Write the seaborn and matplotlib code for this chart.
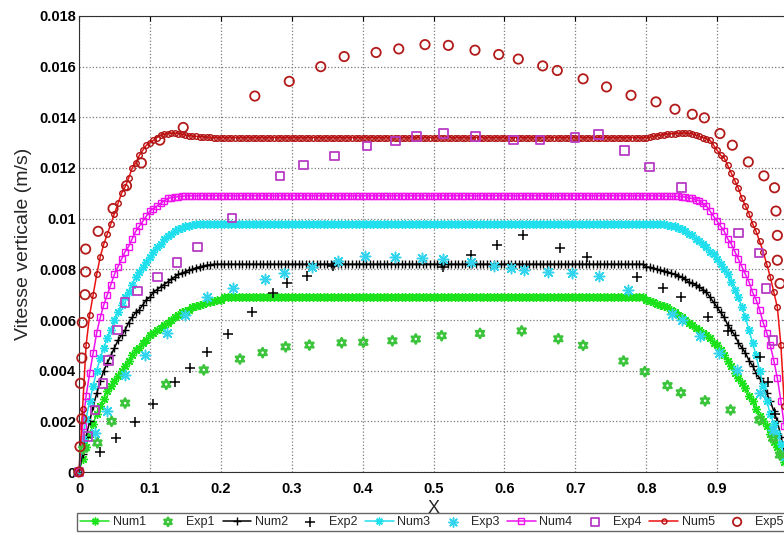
import numpy as np
import matplotlib
matplotlib.use("Agg")
import matplotlib.pyplot as plt
import seaborn as sns
from matplotlib.ticker import FormatStrFormatter, MultipleLocator

# ---- numerical profiles, read on a 0.005 grid in x ----
x_num = np.round(np.linspace(0, 1, 201), 3)

num1_rise = [0, 0.0005, 0.0010, 0.0015, 0.0019, 0.0023, 0.0026, 0.0029, 0.0032, 0.0034,
             0.0036, 0.0038, 0.0040, 0.0042, 0.0044, 0.0046, 0.0048, 0.0049, 0.0051, 0.0052,
             0.0054, 0.0055, 0.0056, 0.0057, 0.0058, 0.0059, 0.0060, 0.0061, 0.0062, 0.0063,
             0.00635, 0.0064, 0.0065, 0.00655, 0.0066, 0.00665, 0.0067, 0.00673, 0.00676, 0.00679,
             0.0068]
num1_fall = [0.0068, 0.00675, 0.0067, 0.00665, 0.0066, 0.00655, 0.0065, 0.0064, 0.0063, 0.0062,
             0.0061, 0.0060, 0.0059, 0.0058, 0.0057, 0.0056, 0.0055, 0.0054, 0.0053, 0.0051,
             0.0050, 0.0048, 0.0046, 0.0044, 0.0042, 0.0039, 0.0037, 0.0035, 0.0033, 0.0030,
             0.0028, 0.0025, 0.0022, 0.0020, 0.0018, 0.0015, 0.0012, 0.0010, 0.0007, 0.0004,
             0]
num2_rise = [0, 0.0007, 0.0014, 0.0020, 0.0026, 0.0031, 0.0036, 0.0040, 0.0043, 0.0046,
             0.0049, 0.0052, 0.0054, 0.0056, 0.0059, 0.0061, 0.0063, 0.0064, 0.0066, 0.0068,
             0.0069, 0.0071, 0.0072, 0.0073, 0.0074, 0.0075, 0.0076, 0.0077, 0.0078, 0.00785,
             0.0079, 0.00797, 0.0080, 0.00806, 0.0081, 0.00813, 0.00816, 0.00818, 0.0082, 0.0082,
             0.0082]
num2_fall = [0.0081, 0.00808, 0.00805, 0.0080, 0.00797, 0.00793, 0.0079, 0.00785, 0.0078, 0.00775,
             0.0077, 0.0076, 0.0075, 0.00745, 0.0074, 0.0073, 0.0072, 0.0071, 0.0069, 0.0067,
             0.0065, 0.0063, 0.0061, 0.0058, 0.0056, 0.0054, 0.0051, 0.0049, 0.0047, 0.0044,
             0.0042, 0.0039, 0.0037, 0.0035, 0.0031, 0.0028, 0.0024, 0.0020, 0.0014, 0.0008,
             0]
num3_rise = [0, 0.0013, 0.0021, 0.0028, 0.0034, 0.0040, 0.0045, 0.0049, 0.0053, 0.0056,
             0.0060, 0.0063, 0.0066, 0.0069, 0.0071, 0.0074, 0.0077, 0.0079, 0.0081, 0.0083,
             0.0085, 0.0087, 0.0089, 0.0090, 0.0092, 0.0093, 0.0094, 0.0095, 0.0096, 0.00965,
             0.0097, 0.00973, 0.00976, 0.00978, 0.0098, 0.0098, 0.0098, 0.0098, 0.0098, 0.0098,
             0.0098]
num3_fall = [0.0098, 0.0098, 0.0098, 0.00979, 0.00978, 0.00977, 0.00975, 0.00973, 0.0097, 0.00965,
             0.0096, 0.0095, 0.0094, 0.00935, 0.0092, 0.0091, 0.0090, 0.0089, 0.0087, 0.0086,
             0.0084, 0.0082, 0.0080, 0.0078, 0.0075, 0.0072, 0.0069, 0.0065, 0.0061, 0.0056,
             0.0051, 0.0046, 0.0040, 0.0034, 0.0028, 0.0023, 0.0019, 0.0015, 0.0011, 0.0006,
             0]
num4_rise = [0, 0.0018, 0.0030, 0.0039, 0.0047, 0.0055, 0.0061, 0.0066, 0.0070, 0.0074,
             0.0078, 0.0081, 0.0084, 0.0087, 0.0089, 0.0092, 0.0095, 0.0097, 0.0099, 0.0101,
             0.0103, 0.0104, 0.0105, 0.0106, 0.0107, 0.0108, 0.01083, 0.01085, 0.01087, 0.01088,
             0.0109, 0.0109, 0.0109, 0.0109, 0.0109, 0.0109, 0.0109, 0.0109, 0.0109, 0.0109,
             0.0109]
num4_fall = [0.0109, 0.0109, 0.0109, 0.0109, 0.0109, 0.01089, 0.01089, 0.01088, 0.01088, 0.01088,
             0.01087, 0.01085, 0.01082, 0.0108, 0.01075, 0.0107, 0.0106, 0.0105, 0.0103, 0.0101,
             0.0099, 0.0097, 0.0095, 0.0092, 0.0090, 0.0087, 0.0084, 0.0081, 0.0078, 0.0075,
             0.0071, 0.0068, 0.0064, 0.0059, 0.0055, 0.0050, 0.0044, 0.0037, 0.0028, 0.0018,
             0]
num5_rise = [0, 0.0025, 0.0050, 0.0062, 0.0070, 0.0078, 0.0085, 0.0090, 0.0094, 0.0098,
             0.0102, 0.0106, 0.0110, 0.01125, 0.0116, 0.0120, 0.0122, 0.0125, 0.0127, 0.0129,
             0.0130, 0.0131, 0.0132, 0.0133, 0.01334, 0.01336, 0.01338, 0.01338, 0.01336, 0.01334,
             0.0133, 0.01328, 0.01326, 0.01325, 0.01324, 0.01323, 0.01322, 0.01321, 0.0132, 0.0132,
             0.0132]
num5_fall = [0.0132, 0.01322, 0.01325, 0.01328, 0.0133, 0.01332, 0.01334, 0.01335, 0.01336, 0.01337,
             0.01338, 0.01338, 0.01337, 0.01335, 0.0133, 0.01325, 0.0132, 0.01315, 0.0131, 0.0129,
             0.0127, 0.0125, 0.0124, 0.0121, 0.0118, 0.0115, 0.0112, 0.0108, 0.0105, 0.0102,
             0.0098, 0.0095, 0.0091, 0.0087, 0.0082, 0.0077, 0.0071, 0.0065, 0.0050, 0.0026,
             0]
# flat core between x = 0.205 and x = 0.795 (119 grid points)
num1 = num1_rise + [0.0069] * 119 + num1_fall
num2 = num2_rise + [0.0082] * 119 + num2_fall
num3 = num3_rise + [0.0098] * 119 + num3_fall
num4 = num4_rise + [0.0109] * 119 + num4_fall
num5 = num5_rise + [0.0132] * 119 + num5_fall

# ---- experimental points ----
exp1_x = [0.006, 0.026, 0.046, 0.065, 0.123, 0.176, 0.227, 0.259, 0.2915, 0.325, 0.3705, 0.401,
          0.442, 0.475, 0.5115, 0.5656, 0.6244, 0.676, 0.711, 0.768, 0.798, 0.830, 0.849, 0.883,
          0.919, 0.9596, 0.979, 0.9887]
exp1_y = [0.0009, 0.00115, 0.0020, 0.00272, 0.00346, 0.00403, 0.00446, 0.00471, 0.00494, 0.00501,
          0.0051, 0.00512, 0.00518, 0.00525, 0.00538, 0.00547, 0.00557, 0.00526, 0.0050, 0.00438,
          0.00396, 0.00341, 0.00313, 0.00281, 0.00245, 0.00205, 0.00133, 0.00067]
exp2_x = [0.0296, 0.052, 0.079, 0.105, 0.1354, 0.1565, 0.180, 0.2097, 0.2435, 0.273, 0.293, 0.322,
          0.3587, 0.514, 0.553, 0.589, 0.626, 0.678, 0.716, 0.7866, 0.823, 0.849, 0.8867, 0.9158,
          0.9605, 0.972, 0.9816]
exp2_y = [0.0008, 0.00133, 0.00196, 0.0027, 0.00356, 0.00409, 0.00475, 0.00544, 0.00632, 0.00705,
          0.00747, 0.00773, 0.00813, 0.0081, 0.00856, 0.00895, 0.00935, 0.00886, 0.0085, 0.0077,
          0.00725, 0.00689, 0.00613, 0.00556, 0.00455, 0.00356, 0.0023]
exp3_x = [0.0226, 0.039, 0.065, 0.093, 0.1237, 0.1495, 0.180, 0.2176, 0.2623, 0.2896, 0.328, 0.366,
          0.403, 0.4457, 0.484, 0.514, 0.553, 0.5857, 0.609, 0.627, 0.662, 0.695, 0.734, 0.775,
          0.836, 0.85, 0.876, 0.902, 0.928, 0.96, 0.979]
exp3_y = [0.00153, 0.00242, 0.00383, 0.00462, 0.00547, 0.0062, 0.00692, 0.00725, 0.00761, 0.00784,
          0.0081, 0.00832, 0.00853, 0.00849, 0.00845, 0.0084, 0.00827, 0.00814, 0.00806, 0.00797,
          0.0079, 0.00784, 0.00773, 0.00718, 0.00623, 0.006, 0.00535, 0.0047, 0.00402, 0.0031,
          0.00166]
exp4_x = [0.0, 0.013, 0.0226, 0.034, 0.042, 0.054, 0.0649, 0.0828, 0.1104, 0.1382, 0.1668, 0.216,
          0.2835, 0.317, 0.3606, 0.406, 0.4467, 0.476, 0.514, 0.559, 0.6125, 0.650, 0.6996, 0.7325,
          0.769, 0.805, 0.85, 0.93, 0.959, 0.969, 0.979]
exp4_y = [0.0, 0.0014, 0.00245, 0.0035, 0.0044, 0.0056, 0.00668, 0.00714, 0.0077, 0.00828, 0.00889,
          0.01002, 0.01168, 0.01211, 0.01247, 0.01287, 0.01307, 0.01325, 0.01336, 0.01325, 0.0131,
          0.0131, 0.0132, 0.01333, 0.0127, 0.01204, 0.01122, 0.00944, 0.00865, 0.00725, 0.0052]
exp5_x = [0.0, 0.0014, 0.004, 0.002, 0.004, 0.0047, 0.0085, 0.0094, 0.0094, 0.027, 0.048, 0.067,
          0.088, 0.114, 0.147, 0.248, 0.2966, 0.341, 0.374, 0.419, 0.451, 0.488, 0.521, 0.5585,
          0.592, 0.6196, 0.654, 0.6746, 0.711, 0.744, 0.7786, 0.8138, 0.8406, 0.865, 0.882, 0.904,
          0.9215, 0.944, 0.966, 0.981, 0.983, 0.985, 0.985, 0.9887]
exp5_y = [0.0, 0.001, 0.0021, 0.0035, 0.0045, 0.0059, 0.0070, 0.0079, 0.0088, 0.0095, 0.0104,
          0.0113, 0.0122, 0.0131, 0.0136, 0.01484, 0.01542, 0.0160, 0.0164, 0.01656, 0.0167,
          0.01687, 0.01684, 0.01665, 0.01648, 0.0163, 0.01603, 0.01585, 0.01552, 0.0152, 0.01487,
          0.01461, 0.01432, 0.01412, 0.01398, 0.01336, 0.0129, 0.01224, 0.01169, 0.01122, 0.0103,
          0.00934, 0.00836, 0.00744]

sns.set_style("white")
plt.rcParams['font.family'] = ['Liberation Sans', 'DejaVu Sans']

fig = plt.figure(figsize=(7.84, 5.38), dpi=100)
ax = fig.add_axes([79 / 784, 66 / 538, 709 / 784, 456 / 538])

aster = (8, 2, 0)
hexa = (6, 1, 0)

series = [
    ("num", num1, "#1be21b", aster, 6.3, "Num1"),
    ("exp", (exp1_x, exp1_y), "#3cc43c", hexa, 45, "Exp1"),
    ("num", num2, "black", "+", 6, "Num2"),
    ("exp", (exp2_x, exp2_y), "black", "+", 60, "Exp2"),
    ("num", num3, "#22dfee", aster, 6.3, "Num3"),
    ("exp", (exp3_x, exp3_y), "#33d5ee", aster, 55, "Exp3"),
    ("num", num4, "#ee11ee", "s", 4.5, "Num4"),
    ("exp", (exp4_x, exp4_y), "#b83cc4", "s", 38, "Exp4"),
    ("num", num5, "#ee1111", "o", 4.0, "Num5"),
    ("exp", (exp5_x, exp5_y), "#b31a1a", "o", 45, "Exp5"),
]

for kind, data, col, mk, size, name in series:
    if kind == "num":
        mec = "#b01010" if name == "Num5" else col
        sns.lineplot(x=x_num, y=data, ax=ax, color=col, linewidth=1.1, marker=mk,
                     markersize=size, markeredgecolor=mec, markerfacecolor="none",
                     markeredgewidth=1.0, sort=False, estimator=None, errorbar=None,
                     label=name, clip_on=False)
    elif mk in ("+", aster):
        # line-art markers take their colour from the face colour
        sns.scatterplot(x=data[0], y=data[1], ax=ax, marker=mk, s=size, color=col,
                        linewidth=1.1, label=name, clip_on=False, zorder=3)
    else:
        lw = 1.8 if mk == hexa else 1.3
        sns.scatterplot(x=data[0], y=data[1], ax=ax, marker=mk, s=size,
                        facecolor="none", edgecolor=col, linewidth=lw,
                        label=name, clip_on=False, zorder=3)

ax.set_xlim(0, 1)
ax.set_ylim(0, 0.018)
ax.xaxis.set_major_locator(MultipleLocator(0.1))
ax.yaxis.set_major_locator(MultipleLocator(0.002))
ax.xaxis.set_major_formatter(FormatStrFormatter('%g'))
ax.yaxis.set_major_formatter(FormatStrFormatter('%g'))
ax.grid(True, linestyle=':', color='#7a7a7a', linewidth=0.9)
ax.tick_params(direction='in', top=True, right=True, length=3.5, width=0.8, colors='black')
ax.tick_params(axis='x', pad=7.2)
ax.tick_params(axis='y', pad=2.2)
for lab in ax.get_xticklabels() + ax.get_yticklabels():
    lab.set_fontweight('bold')
    lab.set_fontsize(10.5)
for sp in ax.spines.values():
    sp.set_color('#303030')
    sp.set_linewidth(0.8)

ax.set_xlabel("X", fontsize=13, labelpad=3)
ax.set_ylabel("Vitesse verticale (m/s)", fontsize=14, labelpad=5)

handles, labels = ax.get_legend_handles_labels()
ax.legend_.remove()
fig.legend(handles, labels, loc='upper left', bbox_to_anchor=(77 / 784, 1 - 513 / 538),
           ncol=10, fontsize=9, frameon=True, fancybox=False, edgecolor='#404040',
           handlelength=2.3, handletextpad=0.3, columnspacing=0.63, borderpad=0.25,
           borderaxespad=0, markerscale=0.9)

fig.savefig("out.png", dpi=100)
